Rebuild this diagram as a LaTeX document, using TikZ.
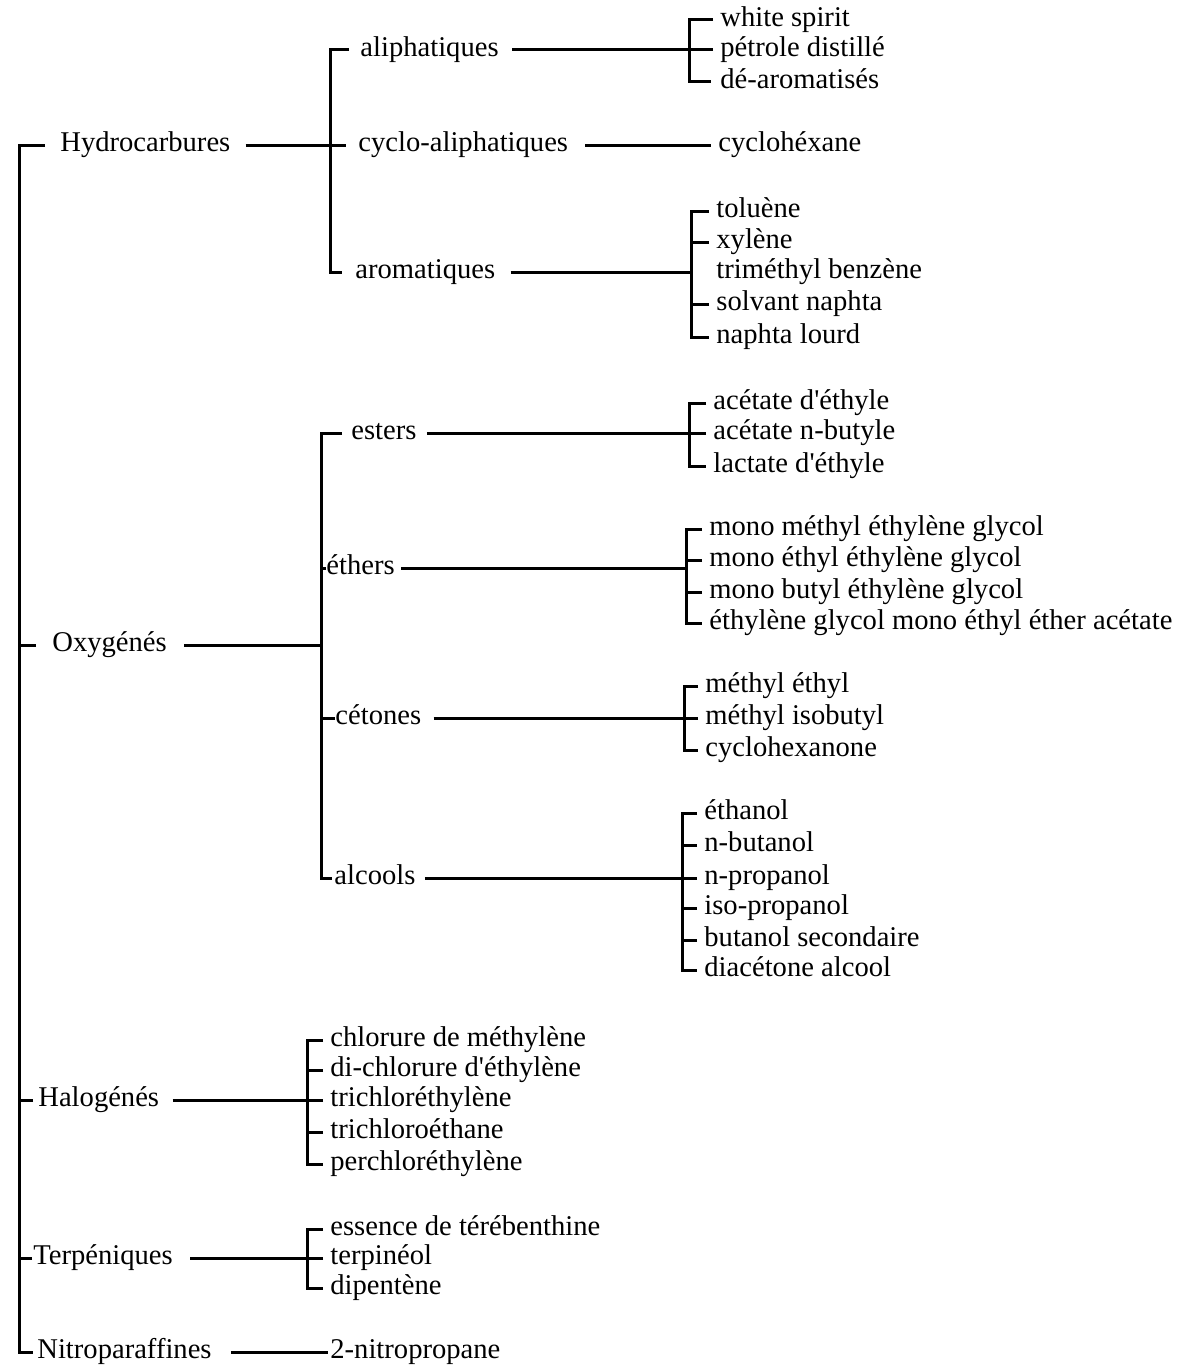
\documentclass[tikz,border=0pt]{standalone}
\usepackage{fontspec}
\setmainfont{Liberation Serif}[Ligatures=TeXOff]

\begin{document}
\begin{tikzpicture}[x=0.5pt, y=-0.5pt,
    texto/.style={anchor=west, inner sep=0pt, text height=0.8em, text depth=0.16em, font=\fontsize{14.3}{16}\selectfont},
    linea/.style={line width=1.5pt},
    hoja/.style={linea, shorten <=3.5pt}]
    % Fijar los límites del gráfico
    \useasboundingbox (0,0) rectangle (1181,1370);

    % Familias principales
    \node[texto] (hidro) at (60,145) {Hydrocarbures};
    \node[texto] (oxig) at (52,645) {Oxygénés};
    \node[texto] (halog) at (38,1100) {Halogénés};
    \node[texto] (terp) at (33,1258) {Terpéniques};
    \node[texto] (nitro) at (37,1352) {Nitroparaffines};
    \coordinate (tronco) at (19,1352);

    % Tronco con sus marcas
    \draw[linea, shorten <=7.5pt, shorten >=2pt] (hidro.west) -| (tronco) -- (nitro.west);
    \draw[linea, shorten <=8pt] (oxig.west) -- (oxig.west -| tronco);
    \draw[linea, shorten <=2.5pt] (halog.west) -- (halog.west -| tronco);
    \draw[linea, shorten <=0.5pt] (terp.west) -- (terp.west -| tronco);

    % Hydrocarbures
    \node[texto] (alif) at (360,50) {aliphatiques};
    \node[texto] (ciclo) at (358,145) {cyclo-aliphatiques};
    \node[texto] (arom) at (355,272) {aromatiques};
    \coordinate (bHid) at (330,145);
    \draw[linea, shorten <=5.5pt, shorten >=6.5pt] (alif.west) -| (bHid) |- (arom.west);
    \draw[linea, shorten <=7.5pt, shorten >=6pt] (hidro.east) -- (ciclo.west);

    % Hojas de aliphatiques
    \node[texto] (white) at (720,20) {white spirit};
    \node[texto] (petrole) at (720,50) {pétrole distillé};
    \node[texto] (dearom) at (720,82) {dé-aromatisés};
    \coordinate (bAli) at (689,50);
    \draw[linea, shorten <=6.5pt] (alif.east) -- (alif.east -| bAli);
    \draw[hoja, shorten >=4.5pt] (white.west) -| (bAli) |- (dearom.west);
    \draw[hoja] (petrole.west) -- (petrole.west -| bAli);

    % Hoja de cyclo-aliphatiques
    \node[texto] (cyclohex) at (718,145) {cyclohéxane};
    \draw[linea, shorten <=8.5pt, shorten >=3.5pt] (ciclo.east) -- (cyclohex.west);

    % Hojas de aromatiques
    \node[texto] (toluene) at (716,211) {toluène};
    \node[texto] (xylene) at (716,242) {xylène};
    \node[texto] (trimet) at (716,272) {triméthyl benzène};
    \node[texto] (solvant) at (716,304) {solvant naphta};
    \node[texto] (naphta) at (716,337) {naphta lourd};
    \coordinate (bAro) at (691,272);
    \draw[linea, shorten <=7.5pt] (arom.east) -- (arom.east -| bAro);
    \draw[hoja, shorten >=3.5pt] (toluene.west) -| (bAro) |- (naphta.west);
    \draw[hoja] (xylene.west) -- (xylene.west -| bAro);
    \draw[hoja] (solvant.west) -- (solvant.west -| bAro);

    % Oxygénés
    \node[texto] (ester) at (351,433) {esters};
    \node[texto] (eter) at (326,568) {éthers};
    \node[texto] (ceton) at (335,718) {cétones};
    \node[texto] (alcoh) at (334,878) {alcools};
    \coordinate (bOxi) at (321,645);
    \draw[linea, shorten <=4.5pt, shorten >=1pt] (ester.west) -| (bOxi) |- (alcoh.west);
    \draw[linea, shorten <=8.5pt] (oxig.east) -- (oxig.east -| bOxi);
    \draw[linea] (eter.west) -- (eter.west -| bOxi);
    \draw[linea] (ceton.west) -- (ceton.west -| bOxi);

    % Hojas de esters
    \node[texto] (aceteth) at (713,403) {acétate d'éthyle};
    \node[texto] (acetbut) at (713,433) {acétate n-butyle};
    \node[texto] (lactate) at (713,466) {lactate d'éthyle};
    \coordinate (bEst) at (689,433);
    \draw[linea, shorten <=5pt] (ester.east) -- (ester.east -| bEst);
    \draw[hoja, shorten >=3.5pt] (aceteth.west) -| (bEst) |- (lactate.west);
    \draw[hoja] (acetbut.west) -- (acetbut.west -| bEst);

    % Hojas de éthers
    \node[texto] (monomet) at (709,529) {mono méthyl éthylène glycol};
    \node[texto] (monoeth) at (709,560) {mono éthyl éthylène glycol};
    \node[texto] (monobut) at (709,592) {mono butyl éthylène glycol};
    \node[texto] (glycol) at (709,623) {éthylène glycol mono éthyl éther acétate};
    \coordinate (bEte) at (686,568);
    \draw[linea, shorten <=3pt] (eter.east) -- (eter.east -| bEte);
    \draw[hoja, shorten >=3.5pt] (monomet.west) -| (bEte) |- (glycol.west);
    \draw[hoja] (monoeth.west) -- (monoeth.west -| bEte);
    \draw[hoja] (monobut.west) -- (monobut.west -| bEte);

    % Hojas de cétones
    \node[texto] (metetil) at (705,686) {méthyl éthyl};
    \node[texto] (metiso) at (705,718) {méthyl isobutyl};
    \node[texto] (ciclona) at (705,750) {cyclohexanone};
    \coordinate (bCet) at (684,718);
    \draw[linea, shorten <=6pt] (ceton.east) -- (ceton.east -| bCet);
    \draw[hoja, shorten >=3.5pt] (metetil.west) -| (bCet) |- (ciclona.west);
    \draw[hoja] (metiso.west) -- (metiso.west -| bCet);

    % Hojas de alcools
    \node[texto] (etanol) at (704,813) {éthanol};
    \node[texto] (nbut) at (704,845) {n-butanol};
    \node[texto] (nprop) at (704,878) {n-propanol};
    \node[texto] (isoprop) at (704,908) {iso-propanol};
    \node[texto] (butsec) at (704,940) {butanol secondaire};
    \node[texto] (diacet) at (704,970) {diacétone alcool};
    \coordinate (bAlc) at (682,878);
    \draw[linea, shorten <=4.5pt] (alcoh.east) -- (alcoh.east -| bAlc);
    \draw[hoja, shorten >=3.5pt] (etanol.west) -| (bAlc) |- (diacet.west);
    \draw[hoja] (nbut.west) -- (nbut.west -| bAlc);
    \draw[hoja] (nprop.west) -- (nprop.west -| bAlc);
    \draw[hoja] (isoprop.west) -- (isoprop.west -| bAlc);
    \draw[hoja] (butsec.west) -- (butsec.west -| bAlc);

    % Hojas de Halogénés
    \node[texto] (cloro) at (330,1040) {chlorure de méthylène};
    \node[texto] (dicloro) at (330,1070) {di-chlorure d'éthylène};
    \node[texto] (tricloe) at (330,1100) {trichloréthylène};
    \node[texto] (triclor) at (330,1132) {trichloroéthane};
    \node[texto] (percl) at (330,1164) {perchloréthylène};
    \coordinate (bHal) at (307,1100);
    \draw[linea, shorten <=6.5pt] (halog.east) -- (halog.east -| bHal);
    \draw[linea, shorten <=3.5pt, shorten >=3.5pt] (cloro.west) -| (bHal) |- (percl.west);
    \draw[hoja] (dicloro.west) -- (dicloro.west -| bHal);
    \draw[hoja] (tricloe.west) -- (tricloe.west -| bHal);
    \draw[hoja] (triclor.west) -- (triclor.west -| bHal);

    % Hojas de Terpéniques
    \node[texto] (esencia) at (330,1229) {essence de térébenthine};
    \node[texto] (terpin) at (330,1258) {terpinéol};
    \node[texto] (dipent) at (330,1288) {dipentène};
    \coordinate (bTer) at (307,1258);
    \draw[linea, shorten <=8.5pt] (terp.east) -- (terp.east -| bTer);
    \draw[linea, shorten <=3.5pt, shorten >=3.5pt] (esencia.west) -| (bTer) |- (dipent.west);
    \draw[hoja] (terpin.west) -- (terpin.west -| bTer);

    % Nitroparaffines
    \node[texto] (nitropro) at (330,1352) {2-nitropropane};
    \draw[linea, shorten <=9.5pt, shorten >=1pt] (nitro.east) -- (nitropro.west);
\end{tikzpicture}
\end{document}
